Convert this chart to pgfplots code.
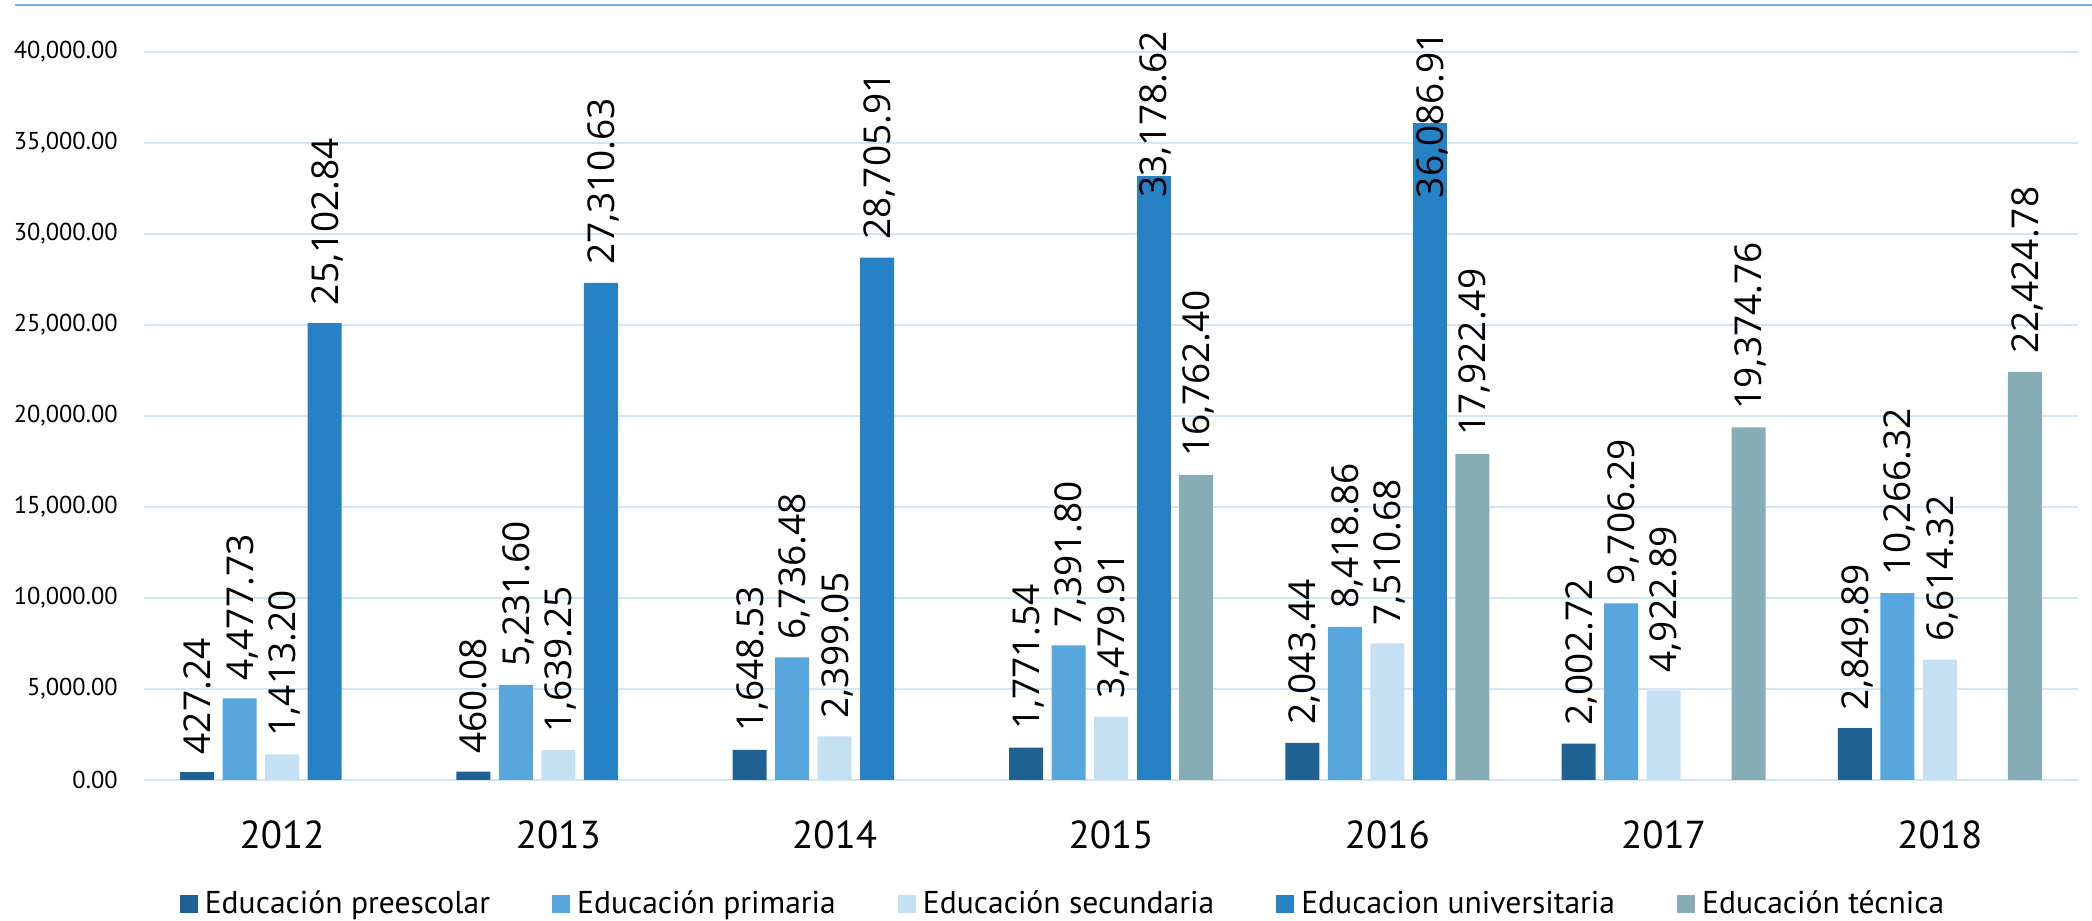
\documentclass[border=0pt]{standalone}
\usepackage{pgfplots}
\pgfplotsset{compat=1.18}
\usepackage{fontspec}
\setmainfont{PT Sans}
\newfontfamily\labfont{Open Sans}
\definecolor{cpre}{HTML}{1F6193}
\definecolor{cpri}{HTML}{58A6DE}
\definecolor{csec}{HTML}{C6E0F3}
\definecolor{cuni}{HTML}{2781C5}
\definecolor{ctec}{HTML}{86ADB6}
\definecolor{cgrid}{HTML}{D3E6F5}
\definecolor{ctop}{HTML}{6FAFE2}
\begin{document}
\begin{tikzpicture}
\begin{axis}[
  name=ax,
  width=967pt, height=364pt, scale only axis,
  xmin=-0.5, xmax=6.5, ymin=0, ymax=40000,
  ybar, bar width=17pt,
  ytick={0,5000,10000,15000,20000,25000,30000,35000,40000},
  ymajorgrids, grid style={cgrid, line width=1pt},
  axis line style={draw=none},
  major tick length=0pt,
  xtick={0,1,2,3,4,5,6},
  xticklabels={2012,2013,2014,2015,2016,2017,2018},
  xticklabel style={font=\fontsize{19.5}{22}\selectfont, anchor=north, inner sep=0pt, yshift=-20pt},
  yticklabel style={font=\fontsize{12.2}{14}\selectfont, anchor=east, inner sep=0pt, xshift=-13pt},
  yticklabel={\pgfmathprintnumber[fixed,fixed zerofill,precision=2,1000 sep={,},assume math mode=true]{\tick}},
  scaled y ticks=false,
  point meta=explicit symbolic,
  nodes near coords,
  nodes near coords style={font=\labfont\fontsize{18.5}{20}\selectfont, rotate=90, anchor=west, inner xsep=9pt, inner ysep=0pt, outer sep=0pt, text depth=0pt, text=black},
  clip=false,
  legend columns=5,
  legend cell align=left,
  legend style={at={(0.4747,-0.1703)}, anchor=center, draw=none, fill=none,
    font=\fontsize{15.8}{18}\selectfont,
    /tikz/every even column/.append style={column sep=31pt},
    nodes={inner sep=0pt}},
  legend image code/.code={\fill[#1] (0pt,-4.5pt) rectangle (9pt,4.5pt); \path (12.5pt,0pt);},
]
\addplot[fill=cpre, draw=none, bar shift=-42.5pt] table[x=x, y=y, meta=lab] {
x y lab
0 427.24 427.24
1 460.08 460.08
2 1648.53 1,648.53
3 1771.54 1,771.54
4 2043.44 2,043.44
5 2002.72 2,002.72
6 2849.89 2,849.89
};
\addlegendentry{Educación preescolar}
\addplot[fill=cpri, draw=none, bar shift=-21.25pt] table[x=x, y=y, meta=lab] {
x y lab
0 4477.73 4,477.73
1 5231.60 5,231.60
2 6736.48 6,736.48
3 7391.80 7,391.80
4 8418.86 8,418.86
5 9706.29 9,706.29
6 10266.32 10,266.32
};
\addlegendentry{Educación primaria}
\addplot[fill=csec, draw=none, bar shift=0pt] table[x=x, y=y, meta=lab] {
x y lab
0 1413.20 1,413.20
1 1639.25 1,639.25
2 2399.05 2,399.05
3 3479.91 3,479.91
4 7510.68 7,510.68
5 4922.89 4,922.89
6 6614.32 6,614.32
};
\addlegendentry{Educación secundaria}
\addplot[fill=cuni, draw=none, bar shift=21.25pt] table[x=x, y=y, meta=lab] {
x y lab
0 25102.84 25,102.84
1 27310.63 27,310.63
2 28705.91 28,705.91
};
\addlegendentry{Educacion universitaria}
\addplot[fill=ctec, draw=none, bar shift=42.5pt] table[x=x, y=y, meta=lab] {
x y lab
3 16762.40 16,762.40
4 17922.49 17,922.49
5 19374.76 19,374.76
6 22424.78 22,424.78
};
\addlegendentry{Educación técnica}
\addplot[fill=cuni, draw=none, bar shift=21.25pt, forget plot, nodes near coords style={inner xsep=-10.9pt}] table[x=x, y=y, meta=lab] {
x y lab
3 33178.62 33,178.62
};
\addplot[fill=cuni, draw=none, bar shift=21.25pt, forget plot, nodes near coords style={inner xsep=-37.4pt}] table[x=x, y=y, meta=lab] {
x y lab
4 36086.91 36,086.91
};
\end{axis}
\draw[ctop, line width=1pt] ([xshift=-64.5pt,yshift=23.5pt]ax.north west) -- ([xshift=7pt,yshift=23.5pt]ax.north east);
\pgfresetboundingbox
\path ([xshift=-72pt,yshift=-70.5pt]ax.south west) rectangle ([xshift=7pt,yshift=26pt]ax.north east);
\end{tikzpicture}
\end{document}
